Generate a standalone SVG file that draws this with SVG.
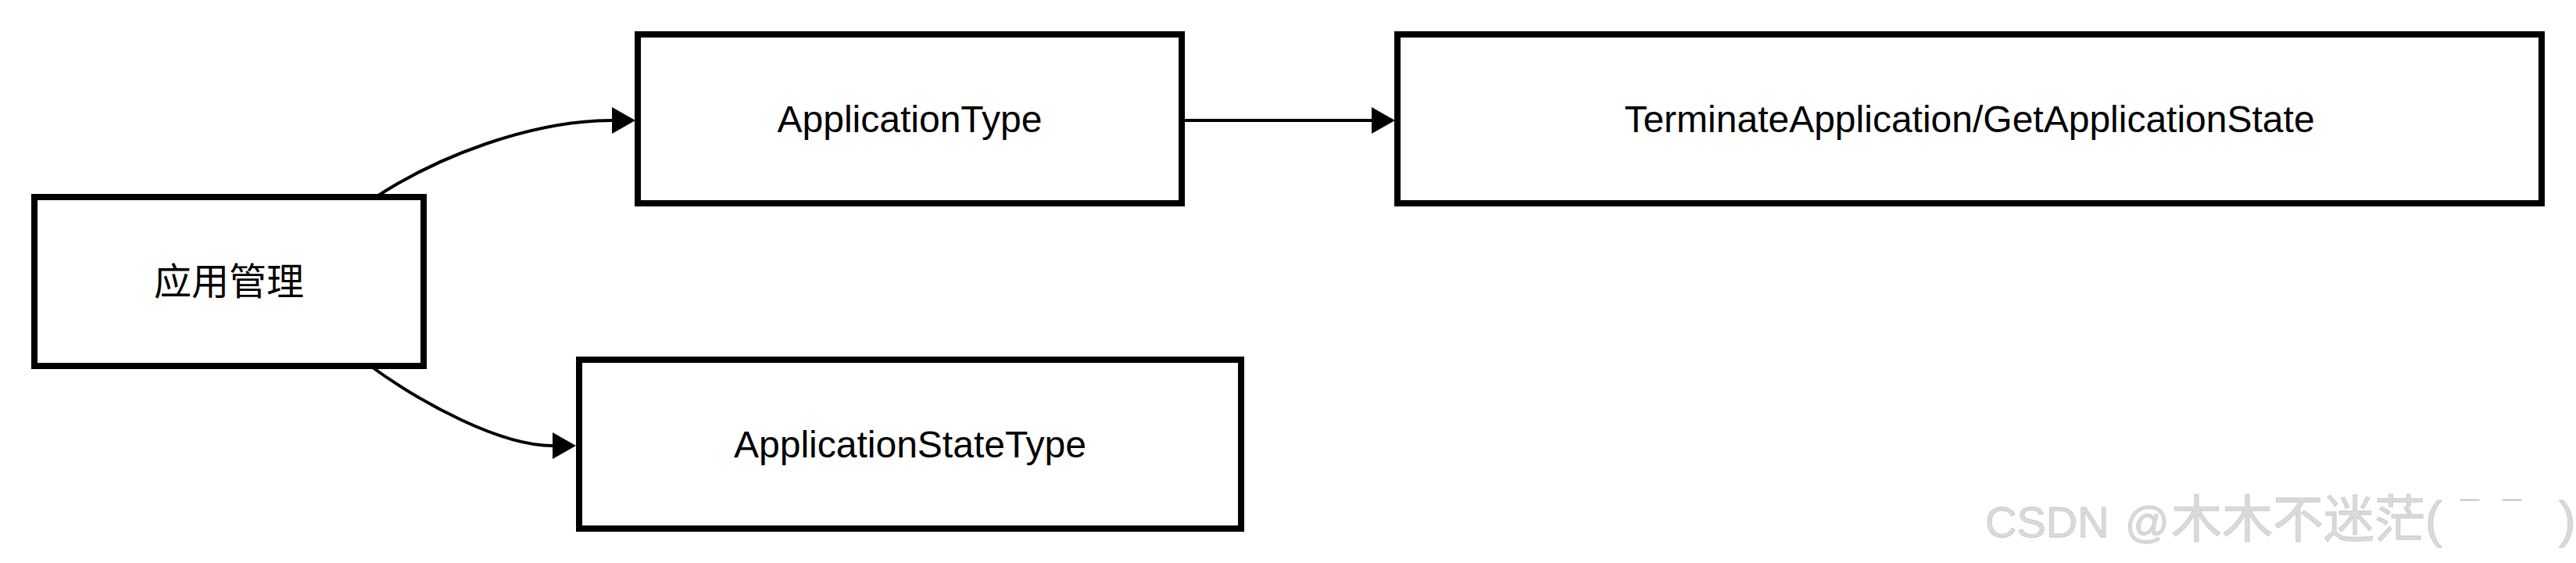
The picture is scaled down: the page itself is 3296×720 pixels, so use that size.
<svg xmlns="http://www.w3.org/2000/svg" width="3296" height="720" viewBox="0 0 3296 720">
  <style>
    .box { fill: #ffffff; stroke: #000000; stroke-width: 8; }
    .label { font-family: "Liberation Sans", "Noto Sans CJK SC", sans-serif; font-size: 48px; fill: #000000; text-anchor: middle; }
    .edge { fill: none; stroke: #000000; stroke-width: 4; }
    .wm { font-family: "Liberation Sans", "Noto Sans CJK SC", sans-serif; fill: #dadada; stroke: #c8c8c8; stroke-width: 0.8; }
  </style>
  <defs>
    <marker id="arrow" markerUnits="userSpaceOnUse" viewBox="0 0 30 34" refX="0" refY="17" markerWidth="30" markerHeight="34" orient="auto">
      <path d="M0,0 L30,17 L0,34 Z" fill="#000000"/>
    </marker>
  </defs>
  <rect width="3296" height="720" fill="#ffffff"/>

  <g id="edges">
    <path id="edge-a-b" class="edge" d="M481,252 C560,200 680,154 783,154" marker-end="url(#arrow)"/>
    <path id="edge-a-d" class="edge" d="M474,468 C540,516 640,570 707,570" marker-end="url(#arrow)"/>
    <path id="edge-b-c" class="edge" d="M1512,154 L1755,154" marker-end="url(#arrow)"/>
  </g>

  <g id="node-yingyong">
    <rect class="box" x="44" y="252" width="498" height="216"/>
    <text class="label" x="293" y="377">应用管理</text>
  </g>

  <g id="node-applicationtype">
    <rect class="box" x="816" y="44" width="696" height="216"/>
    <text class="label" x="1164" y="169">ApplicationType</text>
  </g>

  <g id="node-terminate">
    <rect class="box" x="1788" y="44" width="1464" height="216"/>
    <text class="label" x="2520" y="169">TerminateApplication/GetApplicationState</text>
  </g>

  <g id="node-applicationstatetype">
    <rect class="box" x="741" y="460" width="847" height="216"/>
    <text class="label" x="1164.5" y="585">ApplicationStateType</text>
  </g>

  <g id="watermark">
    <text class="wm" x="2540" y="687" font-size="56">CSDN</text>
    <text class="wm" x="2719" y="687" font-size="56">@</text>
    <text class="wm" x="2778" y="687" font-size="65">木木不迷茫(</text>
    <text class="wm" x="3148" y="660" font-size="24">￣</text>
    <text class="wm" x="3202" y="660" font-size="24">￣</text>
    <text class="wm" x="3274" y="687" font-size="65">)</text>
  </g>
</svg>
